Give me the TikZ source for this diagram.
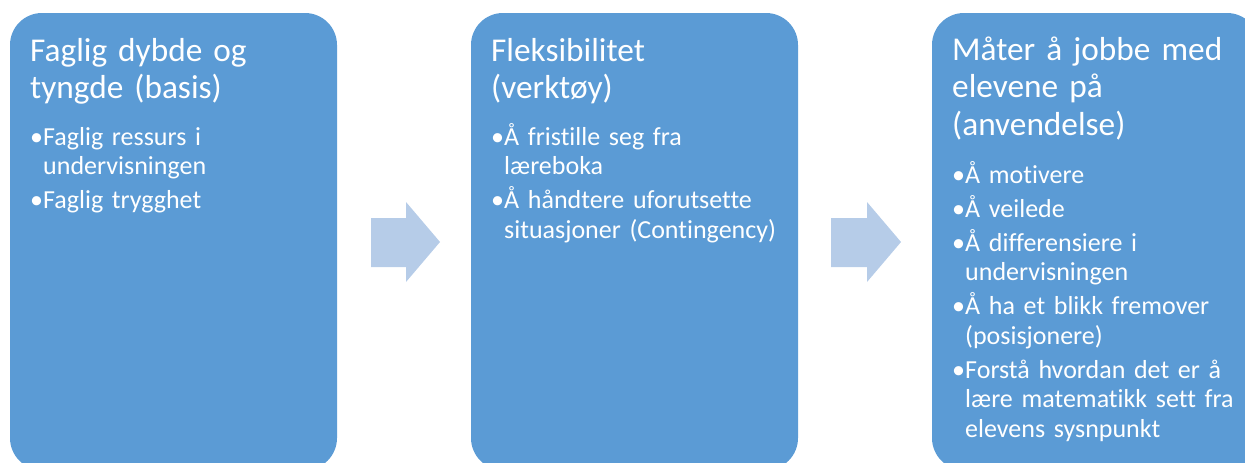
\documentclass[tikz,border=0pt]{standalone}
\usepackage{fontspec}
\setmainfont{Carlito}[Ligatures=NoCommon]
\definecolor{boxblue}{RGB}{91,155,213}
\definecolor{arrowblue}{RGB}{182,204,232}
\newcommand{\itm}[1]{\noindent\hangindent=13pt\hangafter=1\makebox[13pt][l]{•}#1\par}
\tikzset{
  box/.style={fill=boxblue, draw=none, rounded corners=32pt, minimum width=327pt, minimum height=457pt, inner sep=0pt},
  ttl/.style={text=white, font=\fontsize{33.3}{37.5}\selectfont, text width=300pt, align=left, inner sep=0pt, anchor=base west},
  bul/.style={text=white, font=\fontsize{26}{29.5}\selectfont, text width=300pt, align=left, inner sep=0pt, anchor=base west,
    execute at begin node={\setlength{\parskip}{4.5pt}}},
  arr/.style={fill=arrowblue, draw=none}
}
\begin{document}
\begin{tikzpicture}[x=1pt, y=-1pt]
\useasboundingbox (0,0) rectangle (1245,463);
\clip (0,0) rectangle (1245,463);
% boxes
\node[box] (n1) at (173.5,241.5) {};
\node[box] (n2) at (634.5,241.5) {};
\node[box] (n3) at (1095.5,241.5) {};
% arrows
\fill[arr] (371,218) -- (406,218) -- (406,202) -- (440,242) -- (406,282) -- (406,267) -- (371,267) -- cycle;
\fill[arr] (831,218) -- (867,218) -- (867,202) -- (901,242) -- (867,282) -- (867,267) -- (831,267) -- cycle;
% box 1
\node[ttl] (t1) at (30,61) {Faglig dybde og\newline tyngde (basis)};
\node[bul] (b1) at (30,145) {\itm{Faglig ressurs i\newline undervisningen}\itm{Faglig trygghet}};
% box 2
\node[ttl] (t2) at (491,61) {Fleksibilitet\newline (verktøy)};
\node[bul] (b2) at (491,145) {\itm{Å fristille seg fra\newline læreboka}\itm{Å håndtere uforutsette\newline situasjoner (Contingency)}};
% box 3
\node[ttl] (t3) at (952,60) {Måter å jobbe med\newline elevene på\newline (anvendelse)};
\node[bul] (b3) at (952,183) {\itm{Å motivere}\itm{Å veilede}\itm{Å differensiere i\newline undervisningen}\itm{Å ha et blikk fremover\newline (posisjonere)}\itm{Forstå hvordan det er å\newline lære matematikk sett fra\newline elevens sysnpunkt}};
\end{tikzpicture}
\end{document}
